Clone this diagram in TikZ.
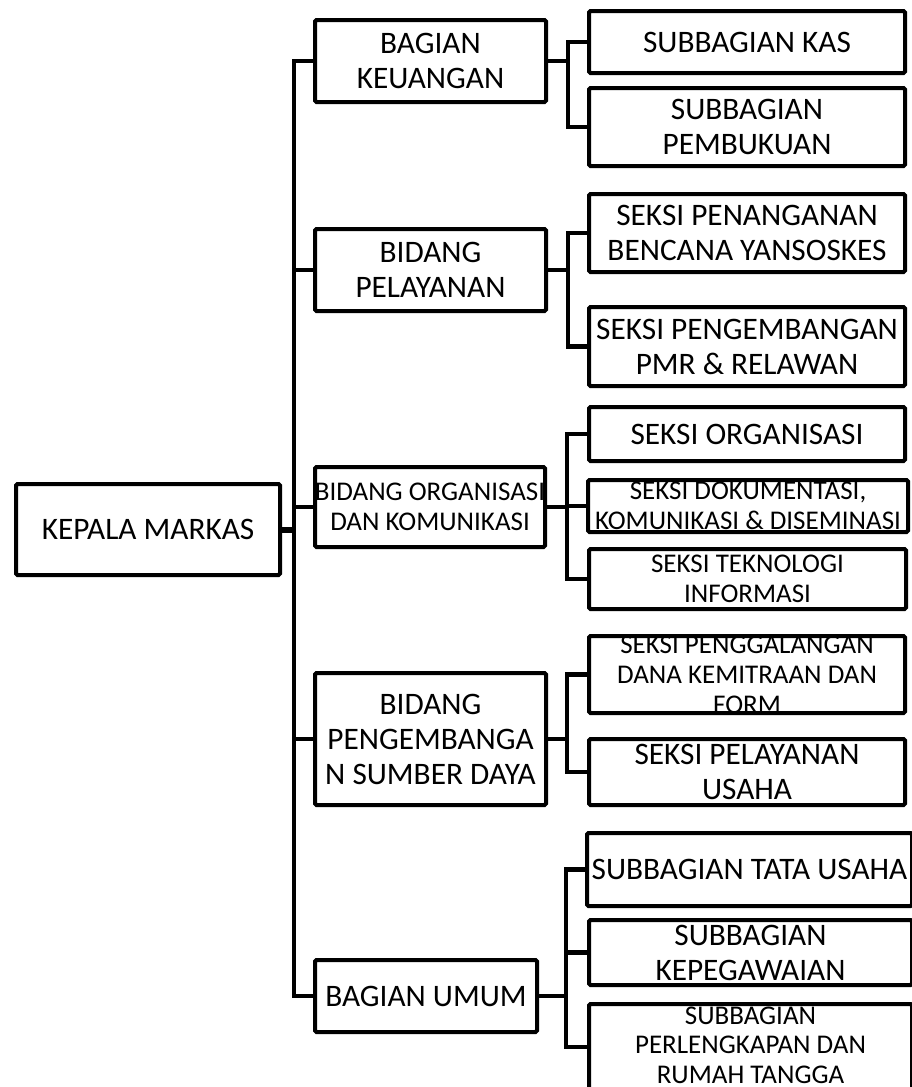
\documentclass[tikz,border=0pt]{standalone}
\usepackage{fontspec}
\setmainfont{Carlito}
\newcommand{\bigfnt}{\fontsize{31.3}{35}\selectfont}
\newcommand{\smfnt}{\fontsize{27}{30}\selectfont}
\newcommand{\smfntb}{\fontsize{27}{29.5}\selectfont}
\tikzset{
  boxst/.style={draw=black, line width=4pt, rounded corners=1.5pt, inner sep=0pt, fill=white},
  bigtxt/.style={align=center, font=\bigfnt, inner sep=0pt, text=black},
  smalltxt/.style={align=center, font=\smfnt, inner sep=0pt, text=black},
  smalltxtb/.style={align=center, font=\smfntb, inner sep=0pt, text=black, yshift=2pt},
  conn/.style={draw=black, line width=4.5pt, line join=miter},
}
\newcommand{\obox}[7]{%
  \node[boxst, minimum width=#4pt, minimum height=#5pt] (#1) at (#2,#3) {};
  \node[#6] (#1-t) at (#1.center) {#7};}
\begin{document}
\begin{tikzpicture}[x=1pt,y=-1pt]
\fill[white] (0,0) rectangle (912,1087);
\useasboundingbox (0,0) rectangle (912,1087);
% level 0
\obox{kep}{148}{529.5}{264}{91}{bigtxt}{KEPALA MARKAS}
% level 1
\obox{keu}{430.5}{61}{231}{82}{bigtxt}{BAGIAN\\KEUANGAN}
\obox{pel}{430.5}{270}{231}{82}{bigtxt}{BIDANG\\PELAYANAN}
\obox{org}{430}{507}{230}{80}{smalltxt}{BIDANG ORGANISASI\\DAN KOMUNIKASI}
\obox{psd}{430.5}{739}{231}{132}{bigtxt}{BIDANG\\PENGEMBANGA\\N SUMBER DAYA}
\obox{umum}{426}{996}{222}{72}{bigtxt}{BAGIAN UMUM}
% level 2
\obox{kas}{747}{42}{316}{62}{bigtxt}{SUBBAGIAN KAS}
\obox{buk}{747}{127}{316}{78}{bigtxt}{SUBBAGIAN\\PEMBUKUAN}
\obox{pen}{747}{233}{316}{78}{bigtxt}{SEKSI PENANGANAN\\BENCANA YANSOSKES}
\obox{pmr}{747}{346.5}{316}{79}{bigtxt}{SEKSI PENGEMBANGAN\\PMR \& RELAWAN}
\obox{sorg}{747}{434}{316}{54}{bigtxt}{SEKSI ORGANISASI}
\obox{dok}{748}{506}{320}{52}{smalltxt}{SEKSI DOKUMENTASI,\\KOMUNIKASI \& DISEMINASI}
\obox{tek}{747.5}{579}{317}{60}{smalltxt}{SEKSI TEKNOLOGI\\INFORMASI}
\obox{gal}{747}{674.5}{316}{77}{smalltxt}{SEKSI PENGGALANGAN\\DANA KEMITRAAN DAN\\FORM}
\obox{usa}{747}{772}{316}{66}{bigtxt}{SEKSI PELAYANAN\\USAHA}
\obox{tu}{749.5}{869.5}{325}{73}{bigtxt}{SUBBAGIAN TATA USAHA}
\obox{peg}{750.5}{952.5}{323}{65}{bigtxt}{SUBBAGIAN\\KEPEGAWAIAN}
\obox{rt}{750.5}{1047}{323}{86}{smalltxtb}{SUBBAGIAN\\PERLENGKAPAN DAN\\RUMAH TANGGA}
% bar coordinates
\coordinate (tr) at (294,0);
\coordinate (bk) at (568,0);
\coordinate (bp) at (568,0);
\coordinate (bo) at (567,0);
\coordinate (bs) at (567,0);
\coordinate (bu) at (566,0);
% main trunk
\draw[conn, line width=6pt] (kep.east) -- (kep.east -| tr);
\draw[conn] (keu.west) -- (keu.west -| tr) |- (umum.west);
\draw[conn] (pel.west) -- (pel.west -| tr);
\draw[conn] (org.west) -- (org.west -| tr);
\draw[conn] (psd.west) -- (psd.west -| tr);
% keuangan
\draw[conn] (keu.east) -- (keu.east -| bk);
\draw[conn] (kas.west) -- (kas.west -| bk) |- (buk.west);
% pelayanan
\draw[conn] (pel.east) -- (pel.east -| bp);
\draw[conn] (pen.west) -- (pen.west -| bp) |- (pmr.west);
% organisasi
\draw[conn] (org.east) -- (org.east -| bo);
\draw[conn] (sorg.west) -- (sorg.west -| bo) |- (tek.west);
\draw[conn] (dok.west) -- (dok.west -| bo);
% sumber daya
\draw[conn] (psd.east) -- (psd.east -| bs);
\draw[conn] (gal.west) -- (gal.west -| bs) |- (usa.west);
% umum
\draw[conn] (umum.east) -- (umum.east -| bu);
\draw[conn] (tu.west) -- (tu.west -| bu) |- (rt.west);
\draw[conn] (peg.west) -- (peg.west -| bu);
\end{tikzpicture}
\end{document}
